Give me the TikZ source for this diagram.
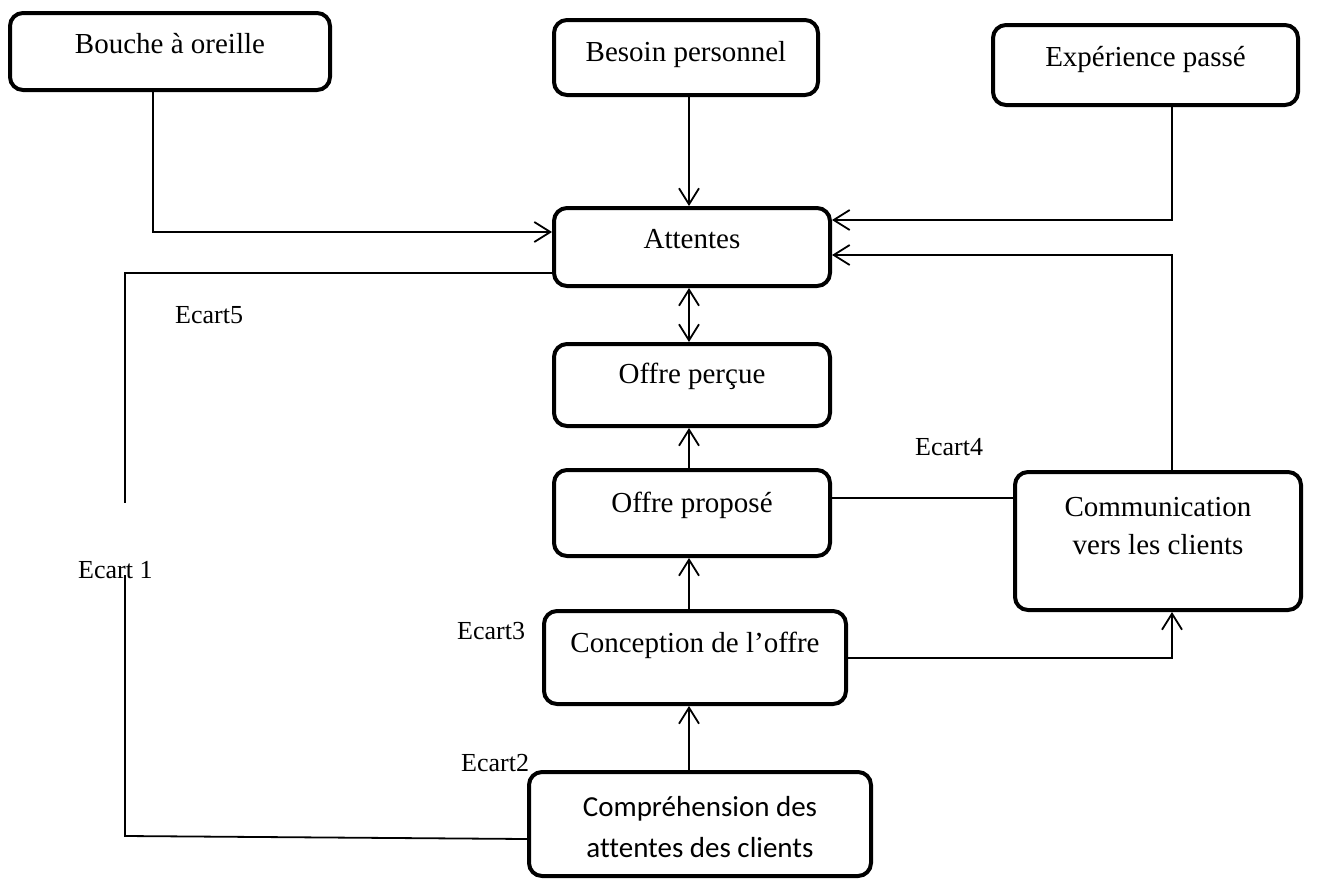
\documentclass[tikz,border=0pt]{standalone}
\usepackage{fontspec}
\setmainfont{Liberation Serif}
\newfontfamily\calibri[Ligatures=NoCommon]{Carlito}
\usetikzlibrary{arrows.meta}
\newcommand\boxtext[2]{\raisebox{#1}[0pt][0pt]{\begin{tabular}[t]{@{}c@{}}#2\end{tabular}}}
\begin{document}
\begin{tikzpicture}[x=1pt,y=-1pt,
  box/.style={draw, line width=4pt, rounded corners=13pt, inner sep=0pt,
    font=\fontsize{29}{38}\selectfont},
  conn/.style={line width=1.8pt},
  arr/.style={conn, -{Straight Barb[length=16pt,width=20pt]}},
  darr/.style={conn, {Straight Barb[length=16pt,width=20pt]}-{Straight Barb[length=16pt,width=20pt]}},
  lbl/.style={anchor=base west, inner sep=0pt, font=\fontsize{26}{30}\selectfont}]
\useasboundingbox (0,0) rectangle (1331,881);

% boxes
\node[box, minimum width=320pt, minimum height=77pt] (bouche) at (170,51.5) {\boxtext{-1.5pt}{Bouche à oreille}};
\node[box, minimum width=264pt, minimum height=75pt] (besoin) at (686,57.5) {\boxtext{-3.5pt}{Besoin personnel}};
\node[box, minimum width=305pt, minimum height=80pt] (exp) at (1145.5,65) {\boxtext{-1pt}{Expérience passé}};
\node[box, minimum width=276pt, minimum height=78pt] (att) at (692,247) {\boxtext{-1pt}{Attentes}};
\node[box, minimum width=276pt, minimum height=82pt] (percue) at (692,385) {\boxtext{2pt}{Offre perçue}};
\node[box, minimum width=276pt, minimum height=86pt] (propose) at (692,513) {\boxtext{1pt}{Offre proposé}};
\node[box, minimum width=302pt, minimum height=93pt] (concep) at (695,657.5) {\boxtext{5.5pt}{Conception de l’offre}};
\node[box, minimum width=342pt, minimum height=104pt, font=\calibri\fontsize{29}{41}\selectfont] (compr) at (700,824) {\boxtext{8pt}{Compréhension des\\attentes des clients}};
\node[box, minimum width=286pt, minimum height=138pt] (comm) at (1158,541) {\boxtext{25pt}{Communication\\vers les clients}};

% labels
\node[lbl] (e5) at (175,323) {Ecart5};
\node[lbl] (e1) at (78,578) {Ecart 1};
\node[lbl] (e4) at (915,455) {Ecart4};
\node[lbl] (e3) at (457,639) {Ecart3};
\node[lbl] (e2) at (461,771) {Ecart2};

% helper coordinates
\coordinate (col) at (689,0);
\coordinate (b1) at (153,232);
\coordinate (x1) at (1172,220);
\coordinate (c1) at (1172,255);
\coordinate (k1) at (1172,658);
\coordinate (p1) at (0,498);
\coordinate (l1) at (125,273);
\coordinate (l2) at (125,503);
\coordinate (l3) at (125,575);
\coordinate (l4) at (125,836);
\coordinate (l5) at (0,839);

% connectors
\draw[arr] (bouche.south -| b1) |- (att.west |- b1);
\draw[arr] (besoin.south -| col) -- (att.north -| col);
\draw[arr] (exp.south -| x1) |- (att.east |- x1);
\draw[arr] (comm.north -| c1) |- (att.east |- c1);
\draw[darr] (att.south -| col) -- (percue.north -| col);
\draw[arr] (propose.north -| col) -- (percue.south -| col);
\draw[arr] (concep.north -| col) -- (propose.south -| col);
\draw[arr] (compr.north -| col) -- (concep.south -| col);
\draw[arr] (concep.east |- k1) -| (comm.south -| k1);
\draw[conn] (propose.east |- p1) -- (comm.west |- p1);
\draw[conn] (att.west |- l1) -- (l1) -- (l2);
\draw[conn] (l3) -- (l4) -- (compr.west |- l5);
\end{tikzpicture}
\end{document}
